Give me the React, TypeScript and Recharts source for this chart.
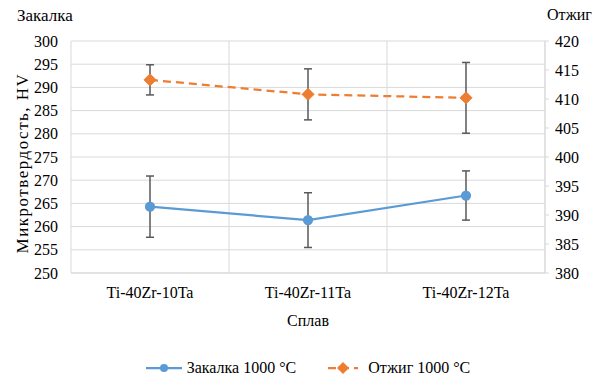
import {
  CartesianGrid,
  ErrorBar,
  Label,
  Legend,
  Line,
  LineChart,
  XAxis,
  YAxis,
} from "recharts";

const FONT = "Liberation Serif, Tinos, DejaVu Serif, serif";

const categories = ["Ti-40Zr-10Ta", "Ti-40Zr-11Ta", "Ti-40Zr-12Ta"];
const quench = [264.3, 261.4, 266.7];
const quenchErr = [6.6, 5.9, 5.3];
const anneal = [413.3, 410.8, 410.2];
const annealErr = [2.6, 4.4, 6.1];

const leftTicks = [250, 255, 260, 265, 270, 275, 280, 285, 290, 295, 300];
const rightTicks = [380, 385, 390, 395, 400, 405, 410, 415, 420];

const BLUE = "#5B9BD5";
const ORANGE = "#ED7D31";
const GRID = "#d9d9d9";
const ERR = "#595959";

const data = categories.map((name, i) => ({
  name,
  quench: quench[i],
  quenchErr: quenchErr[i],
  anneal: anneal[i],
  annealErr: annealErr[i],
}));

function Diamond(props: any) {
  const { cx, cy } = props;
  if (cx == null || cy == null) return null;
  const r = 6;
  return (
    <path
      d={`M${cx},${cy - r} L${cx + r},${cy} L${cx},${cy + r} L${cx - r},${cy} Z`}
      fill={ORANGE}
      stroke={ORANGE}
    />
  );
}

function LegendContent() {
  const text = { fontFamily: FONT, fontSize: 16, color: "#000" };
  return (
    <div
      style={{
        display: "flex",
        justifyContent: "center",
        alignItems: "center",
        paddingLeft: 18,
        height: 20,
      }}
    >
      <svg width={36} height={12} style={{ marginRight: 5 }}>
        <line x1={0} y1={6} x2={36} y2={6} stroke={BLUE} strokeWidth={2.25} />
        <circle cx={18} cy={6} r={4} fill={BLUE} />
      </svg>
      <span style={text}>Закалка 1000 °C</span>
      <svg width={30} height={14} style={{ marginLeft: 32, marginRight: 10 }}>
        <line
          x1={0}
          y1={7}
          x2={30}
          y2={7}
          stroke={ORANGE}
          strokeWidth={2.25}
          strokeDasharray="8 5"
        />
        <path d="M15,1 L21,7 L15,13 L9,7 Z" fill={ORANGE} />
      </svg>
      <span style={text}>Отжиг 1000 °C</span>
    </div>
  );
}

export default function App() {
  const tick = { fontFamily: FONT, fontSize: 16, fill: "#000" };
  return (
    <div
      style={{
        position: "absolute",
        left: 0,
        top: 0,
        width: 598,
        height: 378,
        background: "#fff",
        fontFamily: FONT,
      }}
    >
      <div
        style={{
          position: "absolute",
          left: 17,
          top: 6,
          fontFamily: FONT,
          fontSize: 17,
        }}
      >
        Закалка
      </div>
      <div
        style={{
          position: "absolute",
          left: 547,
          top: 6,
          fontFamily: FONT,
          fontSize: 16,
        }}
      >
        Отжиг
      </div>
      <LineChart
        width={598}
        height={378}
        data={data}
        margin={{ top: 41, right: 0, left: 0, bottom: 0 }}
        style={{ fontFamily: FONT }}
      >
        <CartesianGrid
          yAxisId="left"
          stroke={GRID}
          strokeWidth={1}
          verticalCoordinatesGenerator={({ offset }: any) =>
            [0, 1, 2, 3].map((i) => offset.left + (offset.width * i) / 3)
          }
        />
        <XAxis
          dataKey="name"
          scale="band"
          height={85}
          axisLine={{ stroke: GRID }}
          tickLine={false}
          tickSize={0}
          tickMargin={14}
          tick={tick}
        >
          <Label
            value="Сплав"
            position="insideTop"
            offset={42}
            fontFamily={FONT}
            fontSize={16}
            fill="#000"
          />
        </XAxis>
        <YAxis
          yAxisId="left"
          domain={[250, 300]}
          ticks={leftTicks}
          width={71}
          axisLine={false}
          tickLine={false}
          tickSize={0}
          tickMargin={13}
          tick={tick}
        >
          <Label
            value="Микротвердость, HV"
            angle={-90}
            position="center"
            dx={-14}
            dy={6}
            fontFamily={FONT}
            fontSize={17}
            letterSpacing={1.5}
            fill="#000"
          />
        </YAxis>
        <YAxis
          yAxisId="right"
          orientation="right"
          domain={[380, 420]}
          ticks={rightTicks}
          width={53}
          axisLine={{ stroke: GRID }}
          tickLine={{ stroke: GRID }}
          tickSize={4}
          tickMargin={6}
          tick={tick}
        />
        <Legend
          verticalAlign="bottom"
          height={20}
          content={() => <LegendContent />}
        />
        <Line
          yAxisId="left"
          dataKey="quench"
          stroke={BLUE}
          strokeWidth={2.25}
          dot={{ r: 4, fill: BLUE, stroke: BLUE }}
          isAnimationActive={false}
        >
          <ErrorBar
            dataKey="quenchErr"
            width={4}
            stroke={ERR}
            strokeWidth={1.5}
          />
        </Line>
        <Line
          yAxisId="right"
          dataKey="anneal"
          stroke={ORANGE}
          strokeWidth={2.25}
          strokeDasharray="8 5"
          dot={<Diamond />}
          isAnimationActive={false}
        >
          <ErrorBar
            dataKey="annealErr"
            width={4}
            stroke={ERR}
            strokeWidth={1.5}
          />
        </Line>
      </LineChart>
    </div>
  );
}
